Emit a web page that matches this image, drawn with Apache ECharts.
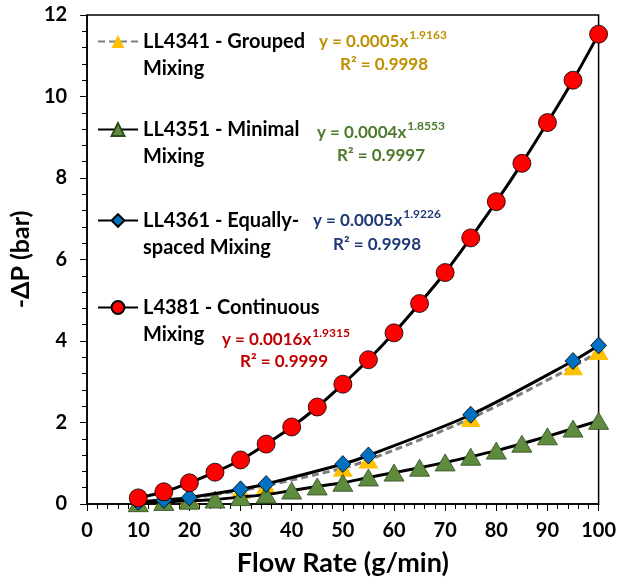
<!DOCTYPE html>
<html>
<head>
<meta charset="utf-8">
<script src="https://cdn.jsdelivr.net/npm/echarts@6/dist/echarts.min.js"></script>
<style>
html,body{margin:0;padding:0;background:#fff;}
#chart{width:619px;height:582px;}
</style>
</head>
<body>
<div id="chart"></div>
<script>
// ---- data ----
const seriesNames = [
  'LL4341 - Grouped\nMixing',
  'LL4351 - Minimal\nMixing',
  'LL4361 - Equally-\nspaced Mixing',
  'L4381 - Continuous\nMixing'
];
const flowPartial = [10, 15, 20, 30, 35, 50, 55, 75, 95, 100];
const flowFull = [10, 15, 20, 25, 30, 35, 40, 45, 50, 55, 60, 65, 70, 75, 80, 85, 90, 95, 100];
const groupedDP = [0.03, 0.08, 0.14, 0.33, 0.45, 0.88, 1.08, 2.10, 3.37, 3.74];
const minimalDP = [0.02, 0.05, 0.08, 0.11, 0.17, 0.23, 0.33, 0.43, 0.52, 0.65, 0.77, 0.89, 1.02, 1.16, 1.31, 1.48, 1.66, 1.85, 2.04];
const equallyDP = [0.05, 0.10, 0.16, 0.36, 0.49, 0.98, 1.19, 2.19, 3.51, 3.89];
const continuousDP = [0.15, 0.30, 0.52, 0.78, 1.08, 1.47, 1.89, 2.38, 2.94, 3.54, 4.20, 4.92, 5.68, 6.53, 7.42, 8.36, 9.36, 10.40, 11.53];
const xTicks = [0, 10, 20, 30, 40, 50, 60, 70, 80, 90, 100];
const yTicks = [0, 2, 4, 6, 8, 10, 12];
const eqMain = ['y = 0.0005x', 'y = 0.0004x', 'y = 0.0005x', 'y = 0.0016x'];
const eqExp = ['1.9163', '1.8553', '1.9226', '1.9315'];
const eqR2 = ['R² = 0.9998', 'R² = 0.9997', 'R² = 0.9998', 'R² = 0.9999'];

// ---- styling ----
const FONT = 'Lato, "Open Sans", "Liberation Sans", sans-serif';
const eqColors = ['#BF9000', '#4F7A2C', '#1F3A78', '#C00000'];
const eqPos = [ // [x of main start, y center main, x of R2 start, y center R2]
  [319, 44, 340, 67],
  [317, 135, 337, 158],
  [313, 223, 333, 247],
  [222, 342, 240, 364]
];
const legendFirstLine = [41, 129, 220, 307];

const pair = (xs, ys) => xs.map((x, i) => [x, ys[i]]);

const cv = document.createElement('canvas').getContext('2d');
function measure(text, font) { cv.font = font; return cv.measureText(text).width; }

const EQ_SIZE = 17, SUP_SIZE = 12;
const graphics = [];
for (let i = 0; i < 4; i++) {
  const p = eqPos[i];
  const w = measure(eqMain[i], 'bold ' + EQ_SIZE + 'px Lato');
  graphics.push({type: 'text', left: p[0], top: p[1] - 11, style: {text: eqMain[i], fill: eqColors[i], font: 'bold ' + EQ_SIZE + 'px ' + FONT}});
  graphics.push({type: 'text', left: p[0] + w + 1, top: p[1] - 15, style: {text: eqExp[i], fill: eqColors[i], font: 'bold ' + SUP_SIZE + 'px ' + FONT}});
  graphics.push({type: 'text', left: p[2], top: p[3] - 11, style: {text: eqR2[i], fill: eqColors[i], font: 'bold ' + EQ_SIZE + 'px ' + FONT}});
}

const legends = seriesNames.map((n, i) => ({
  data: [n],
  left: 97,
  top: legendFirstLine[i] - 40,
  padding: 0,
  itemWidth: 40,
  itemHeight: 16,
  itemGap: 0,
  selectedMode: false,
  formatter: name => ' \n' + name,
  textStyle: {fontFamily: FONT, fontWeight: 'bold', fontSize: 20, color: '#000', lineHeight: 27}
}));

const lineW = 3;
const option = {
  animation: false,
  backgroundColor: '#fff',
  grid: {left: 80, right: 19, top: 15, bottom: 78, show: true, borderColor: '#000', borderWidth: 1.5},
  legend: legends,
  graphic: graphics,
  xAxis: {
    type: 'value', min: xTicks[0], max: xTicks[xTicks.length - 1], interval: 10,
    name: 'Flow Rate (g/min)', nameLocation: 'middle', nameGap: 46,
    nameTextStyle: {fontFamily: FONT, fontWeight: 'bold', fontSize: 27, color: '#000'},
    axisLine: {lineStyle: {color: '#000', width: 1.5}},
    axisTick: {length: 7, lineStyle: {color: '#000', width: 1}},
    minorTick: {show: true, splitNumber: 5, length: 5, lineStyle: {color: '#000', width: 1}},
    splitLine: {show: false},
    axisLabel: {fontFamily: FONT, fontWeight: 'bold', fontSize: 20, color: '#000', margin: 17}
  },
  yAxis: {
    type: 'value', min: yTicks[0], max: yTicks[yTicks.length - 1], interval: 2,
    name: '-ΔP (bar)', nameLocation: 'middle', nameGap: 46,
    nameTextStyle: {fontFamily: FONT, fontWeight: 'bold', fontSize: 25, color: '#000'},
    axisLine: {lineStyle: {color: '#000', width: 1.5}},
    axisTick: {length: 7, lineStyle: {color: '#000', width: 1}},
    minorTick: {show: true, splitNumber: 5, length: 5, lineStyle: {color: '#000', width: 1}},
    splitLine: {show: false},
    axisLabel: {fontFamily: FONT, fontWeight: 'bold', fontSize: 20, color: '#000', margin: 20}
  },
  series: [
    {
      name: seriesNames[0], type: 'line', data: pair(flowPartial, groupedDP), smooth: 0.3,
      symbol: 'triangle', symbolSize: [20, 17],
      lineStyle: {color: '#7F7F7F', width: lineW, type: [7, 4]},
      itemStyle: {color: '#FFC000', borderColor: '#FFC000', borderWidth: 0}, z: 2
    },
    {
      name: seriesNames[1], type: 'line', data: pair(flowFull, minimalDP), smooth: 0.3,
      symbol: 'triangle', symbolSize: [20, 17],
      lineStyle: {color: '#000', width: lineW},
      itemStyle: {color: '#5F8B3F', borderColor: '#2E4A1E', borderWidth: 0.8}, z: 3
    },
    {
      name: seriesNames[2], type: 'line', data: pair(flowPartial, equallyDP), smooth: 0.3,
      symbol: 'diamond', symbolSize: [16, 17],
      lineStyle: {color: '#000', width: lineW},
      itemStyle: {color: '#0070C0', borderColor: '#000', borderWidth: 0.8}, z: 4
    },
    {
      name: seriesNames[3], type: 'line', data: pair(flowFull, continuousDP), smooth: 0.3,
      symbol: 'circle', symbolSize: 18,
      lineStyle: {color: '#000', width: lineW},
      itemStyle: {color: '#FF0000', borderColor: '#000', borderWidth: 0.8}, z: 5
    }
  ]
};
const chart = echarts.init(document.getElementById('chart'), null, {renderer: 'canvas'});
chart.setOption(option);
</script>
</body>
</html>
